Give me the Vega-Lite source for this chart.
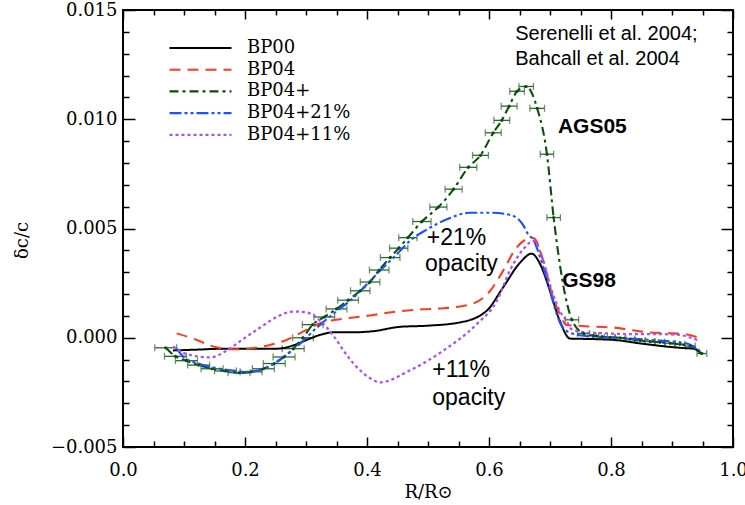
{
  "$schema": "https://vega.github.io/schema/vega-lite/v6.json",
  "width": 610,
  "height": 437,
  "autosize": "none",
  "padding": {"left": 123, "top": 10, "right": 12, "bottom": 58},
  "background": "white",
  "config": {
    "view": {"stroke": "#000", "strokeWidth": 2},
    "axis": {
      "grid": false, "domain": false, "labelFlush": false, "labelOverlap": false,
      "labelFont": "DejaVu Serif", "labelFontSize": 18, "labelColor": "#000",
      "titleFont": "DejaVu Serif", "titleFontSize": 18, "titleFontWeight": "normal", "titleColor": "#000",
      "tickColor": "#000", "tickWidth": 1.5
    }
  },
  "datasets": {
    "curves": [
      {"model": "BP00", "r": 0.082, "dc": -0.00058},
      {"model": "BP00", "r": 0.115, "dc": -0.00055},
      {"model": "BP00", "r": 0.17, "dc": -0.0005},
      {"model": "BP00", "r": 0.225, "dc": -0.0005},
      {"model": "BP00", "r": 0.252, "dc": -0.0005},
      {"model": "BP00", "r": 0.279, "dc": -0.00035},
      {"model": "BP00", "r": 0.301, "dc": -0.0001},
      {"model": "BP00", "r": 0.323, "dc": 0.00013},
      {"model": "BP00", "r": 0.345, "dc": 0.00025},
      {"model": "BP00", "r": 0.378, "dc": 0.00025},
      {"model": "BP00", "r": 0.41, "dc": 0.0003},
      {"model": "BP00", "r": 0.454, "dc": 0.0005},
      {"model": "BP00", "r": 0.498, "dc": 0.00055},
      {"model": "BP00", "r": 0.552, "dc": 0.0007},
      {"model": "BP00", "r": 0.596, "dc": 0.00123},
      {"model": "BP00", "r": 0.623, "dc": 0.0023},
      {"model": "BP00", "r": 0.651, "dc": 0.00344},
      {"model": "BP00", "r": 0.67, "dc": 0.00385},
      {"model": "BP00", "r": 0.684, "dc": 0.00336},
      {"model": "BP00", "r": 0.7, "dc": 0.00215},
      {"model": "BP00", "r": 0.716, "dc": 0.00078},
      {"model": "BP00", "r": 0.733, "dc": -0.00004},
      {"model": "BP00", "r": 0.771, "dc": -0.00006},
      {"model": "BP00", "r": 0.809, "dc": -0.00011},
      {"model": "BP00", "r": 0.848, "dc": -0.00026},
      {"model": "BP00", "r": 0.88, "dc": -0.00037},
      {"model": "BP00", "r": 0.918, "dc": -0.00047},
      {"model": "BP00", "r": 0.935, "dc": -0.0005},
      {"model": "BP00", "r": 0.949, "dc": -0.00075},

      {"model": "BP04", "r": 0.088, "dc": 0.0002},
      {"model": "BP04", "r": 0.121, "dc": -0.0001},
      {"model": "BP04", "r": 0.148, "dc": -0.0004},
      {"model": "BP04", "r": 0.181, "dc": -0.00053},
      {"model": "BP04", "r": 0.213, "dc": -0.00047},
      {"model": "BP04", "r": 0.241, "dc": -0.00033},
      {"model": "BP04", "r": 0.268, "dc": -0.0001},
      {"model": "BP04", "r": 0.295, "dc": 0.00028},
      {"model": "BP04", "r": 0.323, "dc": 0.00066},
      {"model": "BP04", "r": 0.367, "dc": 0.00089},
      {"model": "BP04", "r": 0.41, "dc": 0.00104},
      {"model": "BP04", "r": 0.443, "dc": 0.00118},
      {"model": "BP04", "r": 0.49, "dc": 0.0013},
      {"model": "BP04", "r": 0.525, "dc": 0.00135},
      {"model": "BP04", "r": 0.569, "dc": 0.00152},
      {"model": "BP04", "r": 0.602, "dc": 0.00215},
      {"model": "BP04", "r": 0.623, "dc": 0.00306},
      {"model": "BP04", "r": 0.645, "dc": 0.00412},
      {"model": "BP04", "r": 0.662, "dc": 0.00451},
      {"model": "BP04", "r": 0.673, "dc": 0.00456},
      {"model": "BP04", "r": 0.689, "dc": 0.00352},
      {"model": "BP04", "r": 0.705, "dc": 0.00184},
      {"model": "BP04", "r": 0.716, "dc": 0.0011},
      {"model": "BP04", "r": 0.727, "dc": 0.00058},
      {"model": "BP04", "r": 0.744, "dc": 0.00055},
      {"model": "BP04", "r": 0.776, "dc": 0.0005},
      {"model": "BP04", "r": 0.803, "dc": 0.00047},
      {"model": "BP04", "r": 0.834, "dc": 0.00035},
      {"model": "BP04", "r": 0.864, "dc": 0.00024},
      {"model": "BP04", "r": 0.891, "dc": 0.00021},
      {"model": "BP04", "r": 0.921, "dc": 0.00017},
      {"model": "BP04", "r": 0.943, "dc": 0.00001},

      {"model": "BP04+", "r": 0.07, "dc": -0.00046, "err": 0.018},
      {"model": "BP04+", "r": 0.086, "dc": -0.00085, "err": 0.018},
      {"model": "BP04+", "r": 0.104, "dc": -0.00105, "err": 0.018},
      {"model": "BP04+", "r": 0.124, "dc": -0.00125, "err": 0.018},
      {"model": "BP04+", "r": 0.146, "dc": -0.00142, "err": 0.018},
      {"model": "BP04+", "r": 0.168, "dc": -0.00152, "err": 0.018},
      {"model": "BP04+", "r": 0.19, "dc": -0.0016, "err": 0.018},
      {"model": "BP04+", "r": 0.21, "dc": -0.00156, "err": 0.018},
      {"model": "BP04+", "r": 0.23, "dc": -0.00142, "err": 0.018},
      {"model": "BP04+", "r": 0.248, "dc": -0.00118, "err": 0.018},
      {"model": "BP04+", "r": 0.264, "dc": -0.00088, "err": 0.018},
      {"model": "BP04+", "r": 0.279, "dc": -0.0005, "err": 0.018},
      {"model": "BP04+", "r": 0.295, "dc": 0.0, "err": 0.017},
      {"model": "BP04+", "r": 0.311, "dc": 0.0006, "err": 0.017},
      {"model": "BP04+", "r": 0.33, "dc": 0.00095, "err": 0.017},
      {"model": "BP04+", "r": 0.35, "dc": 0.00132, "err": 0.017},
      {"model": "BP04+", "r": 0.369, "dc": 0.00172, "err": 0.017},
      {"model": "BP04+", "r": 0.389, "dc": 0.00215, "err": 0.016},
      {"model": "BP04+", "r": 0.405, "dc": 0.00255, "err": 0.016},
      {"model": "BP04+", "r": 0.42, "dc": 0.0031, "err": 0.016},
      {"model": "BP04+", "r": 0.438, "dc": 0.00367, "err": 0.016},
      {"model": "BP04+", "r": 0.452, "dc": 0.0041, "err": 0.015},
      {"model": "BP04+", "r": 0.467, "dc": 0.00458, "err": 0.015},
      {"model": "BP04+", "r": 0.49, "dc": 0.00532, "err": 0.015},
      {"model": "BP04+", "r": 0.517, "dc": 0.00598, "err": 0.014},
      {"model": "BP04+", "r": 0.542, "dc": 0.0068, "err": 0.014},
      {"model": "BP04+", "r": 0.566, "dc": 0.0078, "err": 0.014},
      {"model": "BP04+", "r": 0.586, "dc": 0.00835, "err": 0.013},
      {"model": "BP04+", "r": 0.607, "dc": 0.00938, "err": 0.013},
      {"model": "BP04+", "r": 0.621, "dc": 0.00995, "err": 0.013},
      {"model": "BP04+", "r": 0.633, "dc": 0.0106, "err": 0.013},
      {"model": "BP04+", "r": 0.646, "dc": 0.01128, "err": 0.012},
      {"model": "BP04+", "r": 0.661, "dc": 0.0115, "err": 0.012},
      {"model": "BP04+", "r": 0.679, "dc": 0.0105, "err": 0.012},
      {"model": "BP04+", "r": 0.695, "dc": 0.0084, "err": 0.011},
      {"model": "BP04+", "r": 0.706, "dc": 0.0055, "err": 0.011},
      {"model": "BP04+", "r": 0.736, "dc": 0.00082, "err": 0.011},
      {"model": "BP04+", "r": 0.755, "dc": 0.0002, "err": 0.01},
      {"model": "BP04+", "r": 0.771, "dc": 0.0001, "err": 0.009},
      {"model": "BP04+", "r": 0.785, "dc": 0.00005, "err": 0.009},
      {"model": "BP04+", "r": 0.798, "dc": 0.00002, "err": 0.009},
      {"model": "BP04+", "r": 0.815, "dc": 0.0, "err": 0.009},
      {"model": "BP04+", "r": 0.831, "dc": -0.00006, "err": 0.008},
      {"model": "BP04+", "r": 0.848, "dc": -0.00013, "err": 0.008},
      {"model": "BP04+", "r": 0.864, "dc": -0.00017, "err": 0.008},
      {"model": "BP04+", "r": 0.88, "dc": -0.00021, "err": 0.008},
      {"model": "BP04+", "r": 0.897, "dc": -0.00025, "err": 0.008},
      {"model": "BP04+", "r": 0.913, "dc": -0.0003, "err": 0.008},
      {"model": "BP04+", "r": 0.93, "dc": -0.00038, "err": 0.008},
      {"model": "BP04+", "r": 0.949, "dc": -0.00072, "err": 0.008},

      {"model": "BP04+21%", "r": 0.088, "dc": -0.0005},
      {"model": "BP04+21%", "r": 0.1, "dc": -0.0009},
      {"model": "BP04+21%", "r": 0.126, "dc": -0.0012},
      {"model": "BP04+21%", "r": 0.155, "dc": -0.0014},
      {"model": "BP04+21%", "r": 0.18, "dc": -0.0015},
      {"model": "BP04+21%", "r": 0.203, "dc": -0.00156},
      {"model": "BP04+21%", "r": 0.236, "dc": -0.00136},
      {"model": "BP04+21%", "r": 0.262, "dc": -0.0009},
      {"model": "BP04+21%", "r": 0.29, "dc": -0.00028},
      {"model": "BP04+21%", "r": 0.318, "dc": 0.00047},
      {"model": "BP04+21%", "r": 0.344, "dc": 0.00108},
      {"model": "BP04+21%", "r": 0.372, "dc": 0.00169},
      {"model": "BP04+21%", "r": 0.4, "dc": 0.00245},
      {"model": "BP04+21%", "r": 0.421, "dc": 0.00306},
      {"model": "BP04+21%", "r": 0.449, "dc": 0.00382},
      {"model": "BP04+21%", "r": 0.47, "dc": 0.00443},
      {"model": "BP04+21%", "r": 0.498, "dc": 0.00495},
      {"model": "BP04+21%", "r": 0.531, "dc": 0.00542},
      {"model": "BP04+21%", "r": 0.569, "dc": 0.00572},
      {"model": "BP04+21%", "r": 0.607, "dc": 0.00572},
      {"model": "BP04+21%", "r": 0.64, "dc": 0.00557},
      {"model": "BP04+21%", "r": 0.655, "dc": 0.0052},
      {"model": "BP04+21%", "r": 0.665, "dc": 0.0047},
      {"model": "BP04+21%", "r": 0.672, "dc": 0.00452},
      {"model": "BP04+21%", "r": 0.684, "dc": 0.00367},
      {"model": "BP04+21%", "r": 0.7, "dc": 0.00215},
      {"model": "BP04+21%", "r": 0.711, "dc": 0.00108},
      {"model": "BP04+21%", "r": 0.721, "dc": 0.00047},
      {"model": "BP04+21%", "r": 0.738, "dc": 0.00018},
      {"model": "BP04+21%", "r": 0.77, "dc": 0.00005},
      {"model": "BP04+21%", "r": 0.826, "dc": -0.00003},
      {"model": "BP04+21%", "r": 0.88, "dc": -0.00013},
      {"model": "BP04+21%", "r": 0.923, "dc": -0.00025},
      {"model": "BP04+21%", "r": 0.946, "dc": -0.0006},

      {"model": "BP04+11%", "r": 0.082, "dc": -0.0004},
      {"model": "BP04+11%", "r": 0.1, "dc": -0.0007},
      {"model": "BP04+11%", "r": 0.115, "dc": -0.00082},
      {"model": "BP04+11%", "r": 0.143, "dc": -0.0009},
      {"model": "BP04+11%", "r": 0.17, "dc": -0.00059},
      {"model": "BP04+11%", "r": 0.197, "dc": -0.00006},
      {"model": "BP04+11%", "r": 0.225, "dc": 0.00047},
      {"model": "BP04+11%", "r": 0.252, "dc": 0.00095},
      {"model": "BP04+11%", "r": 0.279, "dc": 0.0012},
      {"model": "BP04+11%", "r": 0.301, "dc": 0.00116},
      {"model": "BP04+11%", "r": 0.323, "dc": 0.00078},
      {"model": "BP04+11%", "r": 0.345, "dc": 0.00009},
      {"model": "BP04+11%", "r": 0.367, "dc": -0.0008},
      {"model": "BP04+11%", "r": 0.389, "dc": -0.0015},
      {"model": "BP04+11%", "r": 0.405, "dc": -0.00185},
      {"model": "BP04+11%", "r": 0.421, "dc": -0.00204},
      {"model": "BP04+11%", "r": 0.47, "dc": -0.0015},
      {"model": "BP04+11%", "r": 0.525, "dc": -0.00059},
      {"model": "BP04+11%", "r": 0.58, "dc": 0.00063},
      {"model": "BP04+11%", "r": 0.613, "dc": 0.00169},
      {"model": "BP04+11%", "r": 0.634, "dc": 0.00306},
      {"model": "BP04+11%", "r": 0.656, "dc": 0.00405},
      {"model": "BP04+11%", "r": 0.673, "dc": 0.00443},
      {"model": "BP04+11%", "r": 0.689, "dc": 0.00352},
      {"model": "BP04+11%", "r": 0.703, "dc": 0.00215},
      {"model": "BP04+11%", "r": 0.716, "dc": 0.00123},
      {"model": "BP04+11%", "r": 0.727, "dc": 0.00078},
      {"model": "BP04+11%", "r": 0.735, "dc": 0.0004},
      {"model": "BP04+11%", "r": 0.76, "dc": 0.00024},
      {"model": "BP04+11%", "r": 0.787, "dc": 0.00021},
      {"model": "BP04+11%", "r": 0.826, "dc": 0.00017},
      {"model": "BP04+11%", "r": 0.87, "dc": 0.00017},
      {"model": "BP04+11%", "r": 0.908, "dc": 0.00014},
      {"model": "BP04+11%", "r": 0.946, "dc": -0.00015}
    ],
    "notesRef": [
      {"r": 0.643, "dc": 0.01363, "label": "Serenelli et al. 2004;"},
      {"r": 0.643, "dc": 0.01247, "label": "Bahcall et al. 2004"}
    ],
    "notesBold": [
      {"r": 0.713, "dc": 0.00937, "label": "AGS05"},
      {"r": 0.72, "dc": 0.00232, "label": "GS98"}
    ],
    "notesBig": [
      {"r": 0.498, "dc": 0.00424, "label": "+21%"},
      {"r": 0.495, "dc": 0.00305, "label": "opacity"},
      {"r": 0.507, "dc": -0.00178, "label": "+11%"},
      {"r": 0.507, "dc": -0.00308, "label": "opacity"}
    ]
  },
  "layer": [
    {
      "data": {"name": "curves"},
      "transform": [{"filter": "datum.model === 'BP04+'"}],
      "mark": {"type": "errorbar", "ticks": {"size": 7}, "color": "#2d6b2d", "thickness": 1.3},
      "encoding": {
        "x": {"field": "r", "type": "quantitative", "scale": {"domain": [0, 1], "nice": false, "zero": false, "padding": 0}, "axis": null},
        "xError": {"field": "err"},
        "y": {"field": "dc", "type": "quantitative", "scale": {"domain": [-0.005, 0.015], "nice": false, "zero": false, "padding": 0}, "axis": null}
      }
    },
    {
      "data": {"name": "curves"},
      "mark": {"type": "line", "interpolate": "monotone"},
      "encoding": {
        "x": {"field": "r", "type": "quantitative", "scale": {"domain": [0, 1], "nice": false, "zero": false, "padding": 0},
          "axis": {"orient": "bottom", "values": [0, 0.2, 0.4, 0.6, 0.8, 1.0], "format": ".1f", "ticks": false, "labelPadding": 14, "labelFlush": false, "title": "R/R⊙", "titlePadding": 4,
            "labelFont": "DejaVu Serif", "labelFontSize": 18, "titleFont": "DejaVu Serif", "titleFontSize": 18}},
        "y": {"field": "dc", "type": "quantitative", "scale": {"domain": [-0.005, 0.015], "nice": false, "zero": false, "padding": 0},
          "axis": {"orient": "left", "values": [-0.005, 0, 0.005, 0.01, 0.015], "format": ".3f", "ticks": false, "labelPadding": 6, "labelFlush": false, "title": "δc/c", "titlePadding": 19, "titleY": 230,
            "labelFont": "DejaVu Serif", "labelFontSize": 18, "titleFont": "DejaVu Serif", "titleFontSize": 18}},
        "color": {"field": "model", "type": "nominal",
          "scale": {"domain": ["BP00", "BP04", "BP04+", "BP04+21%", "BP04+11%"], "range": ["#000000", "#ff3b1f", "#0b4f0b", "#1f4fff", "#a64dff"]},
          "legend": {"orient": "none", "legendX": 45, "legendY": 28, "title": null, "symbolType": "stroke", "symbolSize": 3844, "symbolStrokeWidth": 2.5,
            "labelFont": "DejaVu Serif", "labelFontSize": 18, "labelColor": "#000", "labelOffset": 14, "rowPadding": 1.7, "clipHeight": 20, "padding": 0}},
        "strokeDash": {"field": "model", "type": "nominal",
          "scale": {"domain": ["BP00", "BP04", "BP04+", "BP04+21%", "BP04+11%"], "range": [[1, 0], [11, 7], [9, 4, 3, 4], [12, 3, 3, 3, 3, 3], [3, 3]]},
          "legend": {"orient": "none", "legendX": 45, "legendY": 28, "title": null, "symbolType": "stroke", "symbolSize": 3844, "symbolStrokeWidth": 2.5,
            "labelFont": "DejaVu Serif", "labelFontSize": 18, "labelColor": "#000", "labelOffset": 14, "rowPadding": 1.7, "clipHeight": 20, "padding": 0}},
        "strokeWidth": {"field": "model", "type": "nominal",
          "scale": {"domain": ["BP00", "BP04", "BP04+", "BP04+21%", "BP04+11%"], "range": [2, 2.2, 2.4, 3, 2.4]}, "legend": null}
      }
    },
    {
      "data": {"name": "curves"},
      "transform": [{"filter": "datum.model === 'BP04+'"}],
      "mark": {"type": "point", "filled": true, "size": 10, "color": "#0b4f0b", "opacity": 1},
      "encoding": {
        "x": {"field": "r", "type": "quantitative", "scale": {"domain": [0, 1], "nice": false, "zero": false, "padding": 0},
          "axis": {"orient": "bottom", "values": [0, 0.2, 0.4, 0.6, 0.8, 1.0], "labels": false, "title": null, "tickSize": -10}},
        "y": {"field": "dc", "type": "quantitative", "scale": {"domain": [-0.005, 0.015], "nice": false, "zero": false, "padding": 0},
          "axis": {"orient": "left", "values": [-0.005, 0, 0.005, 0.01, 0.015], "labels": false, "title": null, "tickSize": -12}}
      }
    },
    {
      "data": {"name": "notesRef"},
      "mark": {"type": "text", "align": "left", "baseline": "alphabetic", "font": "Liberation Sans", "fontSize": 20, "color": "#000"},
      "encoding": {
        "x": {"field": "r", "type": "quantitative", "scale": {"domain": [0, 1], "nice": false, "zero": false, "padding": 0},
          "axis": {"orient": "bottom", "values": [0.05, 0.1, 0.15, 0.25, 0.3, 0.35, 0.45, 0.5, 0.55, 0.65, 0.7, 0.75, 0.85, 0.9, 0.95], "labels": false, "title": null, "tickSize": -6}},
        "y": {"field": "dc", "type": "quantitative", "scale": {"domain": [-0.005, 0.015], "nice": false, "zero": false, "padding": 0},
          "axis": {"orient": "left", "values": [-0.004, -0.003, -0.002, -0.001, 0.001, 0.002, 0.003, 0.004, 0.006, 0.007, 0.008, 0.009, 0.011, 0.012, 0.013, 0.014], "labels": false, "title": null, "tickSize": -6}},
        "text": {"field": "label"}
      }
    },
    {
      "data": {"name": "notesBold"},
      "mark": {"type": "text", "align": "left", "baseline": "alphabetic", "font": "Liberation Sans", "fontSize": 21, "fontWeight": "bold", "color": "#000"},
      "encoding": {
        "x": {"field": "r", "type": "quantitative", "scale": {"domain": [0, 1], "nice": false, "zero": false, "padding": 0},
          "axis": {"orient": "top", "values": [0, 0.2, 0.4, 0.6, 0.8, 1.0], "labels": false, "title": null, "tickSize": -9}},
        "y": {"field": "dc", "type": "quantitative", "scale": {"domain": [-0.005, 0.015], "nice": false, "zero": false, "padding": 0},
          "axis": {"orient": "right", "values": [-0.005, 0, 0.005, 0.01, 0.015], "labels": false, "title": null, "tickSize": -12}},
        "text": {"field": "label"}
      }
    },
    {
      "data": {"name": "notesBig"},
      "mark": {"type": "text", "align": "left", "baseline": "alphabetic", "font": "Liberation Sans", "fontSize": 23, "color": "#000"},
      "encoding": {
        "x": {"field": "r", "type": "quantitative", "scale": {"domain": [0, 1], "nice": false, "zero": false, "padding": 0},
          "axis": {"orient": "top", "values": [0.05, 0.1, 0.15, 0.25, 0.3, 0.35, 0.45, 0.5, 0.55, 0.65, 0.7, 0.75, 0.85, 0.9, 0.95], "labels": false, "title": null, "tickSize": -5}},
        "y": {"field": "dc", "type": "quantitative", "scale": {"domain": [-0.005, 0.015], "nice": false, "zero": false, "padding": 0},
          "axis": {"orient": "right", "values": [-0.004, -0.003, -0.002, -0.001, 0.001, 0.002, 0.003, 0.004, 0.006, 0.007, 0.008, 0.009, 0.011, 0.012, 0.013, 0.014], "labels": false, "title": null, "tickSize": -6}},
        "text": {"field": "label"}
      }
    }
  ],
  "resolve": {"axis": {"x": "independent", "y": "independent"}}
}
